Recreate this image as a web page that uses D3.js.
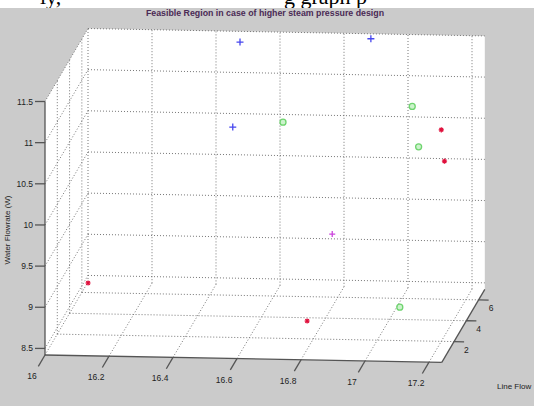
<!DOCTYPE html>
<html><head><meta charset="utf-8">
<script src="https://cdn.jsdelivr.net/npm/d3@7"></script>
<style>html,body{margin:0;padding:0;background:#fff;}svg{display:block;}</style>
</head><body>
<svg id="chart" width="534" height="406"></svg>
<script>
// ---- data ----
const title = "Feasible Region in case of higher steam pressure design";
const xTicks = [16, 16.2, 16.4, 16.6, 16.8, 17, 17.2];
const xTickLabels = ["16", "16.2", "16.4", "16.6", "16.8", "17", "17.2"];
const yTicks = [2, 4, 6];
const yTickLabels = ["2", "4", "6"];
const zTicks = [8.5, 9, 9.5, 10, 10.5, 11, 11.5];
const zTickLabels = ["8.5", "9", "9.5", "10", "10.5", "11", "11.5"];
const xDomain = [16, 17.24];
const yDomain = [0, 7];
const zDomain = [8.42, 11.5];

const blueX = [16.475, 16.884, 16.51];
const blueY = [7, 7, 4];
const blueZ = [11.37, 11.44, 10.72];
const greenX = [16.667, 17.09, 17.11, 17.08];
const greenY = [4, 3, 3, 1.5];
const greenZ = [10.79, 11.14, 10.65, 8.89];
const redX = [17.20, 17.21, 16.80, 16.077];
const redY = [2, 2, 1, 3];
const redZ = [10.99, 10.61, 8.765, 8.92];
const magX = [16.84];
const magY = [3];
const magZ = [9.57];

// ---- projection ----
const xs = d3.scaleLinear().domain(xDomain).range([0, 1]);
const ys = d3.scaleLinear().domain(yDomain).range([0, 1]);
const zs = d3.scaleLinear().domain(zDomain).range([0, 1]);
const O = [45, 355], EX = [396.8, 7.44], EY = [43, -73], EZ = [0, -253.5];
function P(u, v, w) { return [O[0] + u*EX[0] + v*EY[0] + w*EZ[0], O[1] + u*EX[1] + v*EY[1] + w*EZ[1]]; }
function proj(x, y, z) { return P(xs(x), ys(y), zs(z)); }

const svg = d3.select("#chart");
svg.append("rect").attr("width", 534).attr("height", 406).attr("fill", "#fff");
svg.append("rect").attr("y", 8).attr("width", 534).attr("height", 398).attr("fill", "#cbcbcb");
// cut-off document text at very top
const topG = svg.append("g");
svg.append("clipPath").attr("id", "topclip").append("rect").attr("width", 534).attr("height", 8);
topG.attr("clip-path", "url(#topclip)");
topG.append("text").attr("x", 40).attr("y", 4).attr("font-family", "Liberation Serif").attr("font-size", 22).text("ly,");
topG.append("text").attr("x", 284).attr("y", 4).attr("font-family", "Liberation Serif").attr("font-size", 22).text("g graph p");

// axes background
const poly = [P(0,0,0), P(1,0,0), P(1,1,0), P(1,1,1), P(0,1,1), P(0,0,1)];
svg.append("polygon").attr("points", poly.map(p => p.join(",")).join(" ")).attr("fill", "#fff");

// grid
const grid = svg.append("g").attr("stroke", "#777").attr("stroke-width", 1).attr("stroke-dasharray", "1,2").attr("fill", "none");
function seg(g, a, b) { g.append("line").attr("x1", a[0]).attr("y1", a[1]).attr("x2", b[0]).attr("y2", b[1]); }
xTicks.forEach(t => { const u = xs(t); seg(grid, P(u,0,0), P(u,1,0)); seg(grid, P(u,1,0), P(u,1,1)); });
yTicks.forEach(t => { const v = ys(t); seg(grid, P(0,v,0), P(1,v,0)); seg(grid, P(0,v,0), P(0,v,1)); });
zTicks.forEach(t => { const w = zs(t); seg(grid, P(0,1,w), P(1,1,w)); seg(grid, P(0,0,w), P(0,1,w)); });

// axis lines
const ax = svg.append("g").attr("stroke", "#555").attr("stroke-width", 1.3);
seg(ax, P(0,0,0), P(1,0,0));
seg(ax, P(1,0,0), P(1,1,0));
seg(ax, P(0,0,0), P(0,0,1));

const font = "Liberation Sans, Arial, sans-serif";
const lab = svg.append("g").attr("font-family", font).attr("font-size", 8.5).attr("fill", "#222");
// x ticks
xTicks.forEach((t, i) => {
  const p = P(xs(t), 0, 0);
  seg(ax, p, [p[0] - 0.155*EY[0], p[1] - 0.155*EY[1]]);
  lab.append("text").attr("x", p[0] - 0.3*EY[0]).attr("y", p[1] - 0.3*EY[1] + 2).attr("text-anchor", "middle").text(xTickLabels[i]);
});
// y ticks
yTicks.forEach((t, i) => {
  const p = P(1, ys(t), 0);
  seg(ax, p, [p[0] + 10, p[1] + 0.2]);
  lab.append("text").attr("x", p[0] + 10).attr("y", p[1] + 11).attr("text-anchor", "start").text(yTickLabels[i]);
});
// z ticks
zTicks.forEach((t, i) => {
  const p = P(0, 0, zs(t));
  seg(ax, p, [p[0] - 10, p[1]]);
  lab.append("text").attr("x", p[0] - 12).attr("y", p[1] + 3).attr("text-anchor", "end").text(zTickLabels[i]);
});
// axis labels
lab.append("text").attr("transform", "translate(10,230) rotate(-90)").attr("text-anchor", "middle").attr("font-size", 8).text("Water Flowrate (W)");
lab.append("text").attr("x", 497).attr("y", 389).attr("font-size", 8).text("Line Flow");
// title
svg.append("text").attr("x", 265).attr("y", 16).attr("text-anchor", "middle").attr("font-family", font)
  .attr("font-size", 8.8).attr("font-weight", "bold").attr("fill", "#4a2a55").text(title);

// markers
const mk = svg.append("g");
function plus(p, c, s) {
  mk.append("path").attr("d", `M${p[0]-s},${p[1]}H${p[0]+s}M${p[0]},${p[1]-s}V${p[1]+s}`).attr("stroke", c).attr("stroke-width", 1.3).attr("fill", "none");
}
function star(p, c, s) {
  const d = s*0.7;
  mk.append("path").attr("d", `M${p[0]-s},${p[1]}H${p[0]+s}M${p[0]},${p[1]-s}V${p[1]+s}M${p[0]-d},${p[1]-d}L${p[0]+d},${p[1]+d}M${p[0]-d},${p[1]+d}L${p[0]+d},${p[1]-d}`)
    .attr("stroke", c).attr("stroke-width", 1.2).attr("fill", "none");
}
blueX.forEach((x, i) => plus(proj(x, blueY[i], blueZ[i]), "#4646ee", 3.5));
magX.forEach((x, i) => plus(proj(x, magY[i], magZ[i]), "#cc44dd", 3));
greenX.forEach((x, i) => {
  const p = proj(x, greenY[i], greenZ[i]);
  mk.append("circle").attr("cx", p[0]).attr("cy", p[1]).attr("r", 3).attr("stroke", "#6fd46f").attr("stroke-width", 1.3).attr("fill", "rgba(170,235,170,0.6)");
});
redX.forEach((x, i) => star(proj(x, redY[i], redZ[i]), "#e0103c", 2.6));
</script>
</body></html>
